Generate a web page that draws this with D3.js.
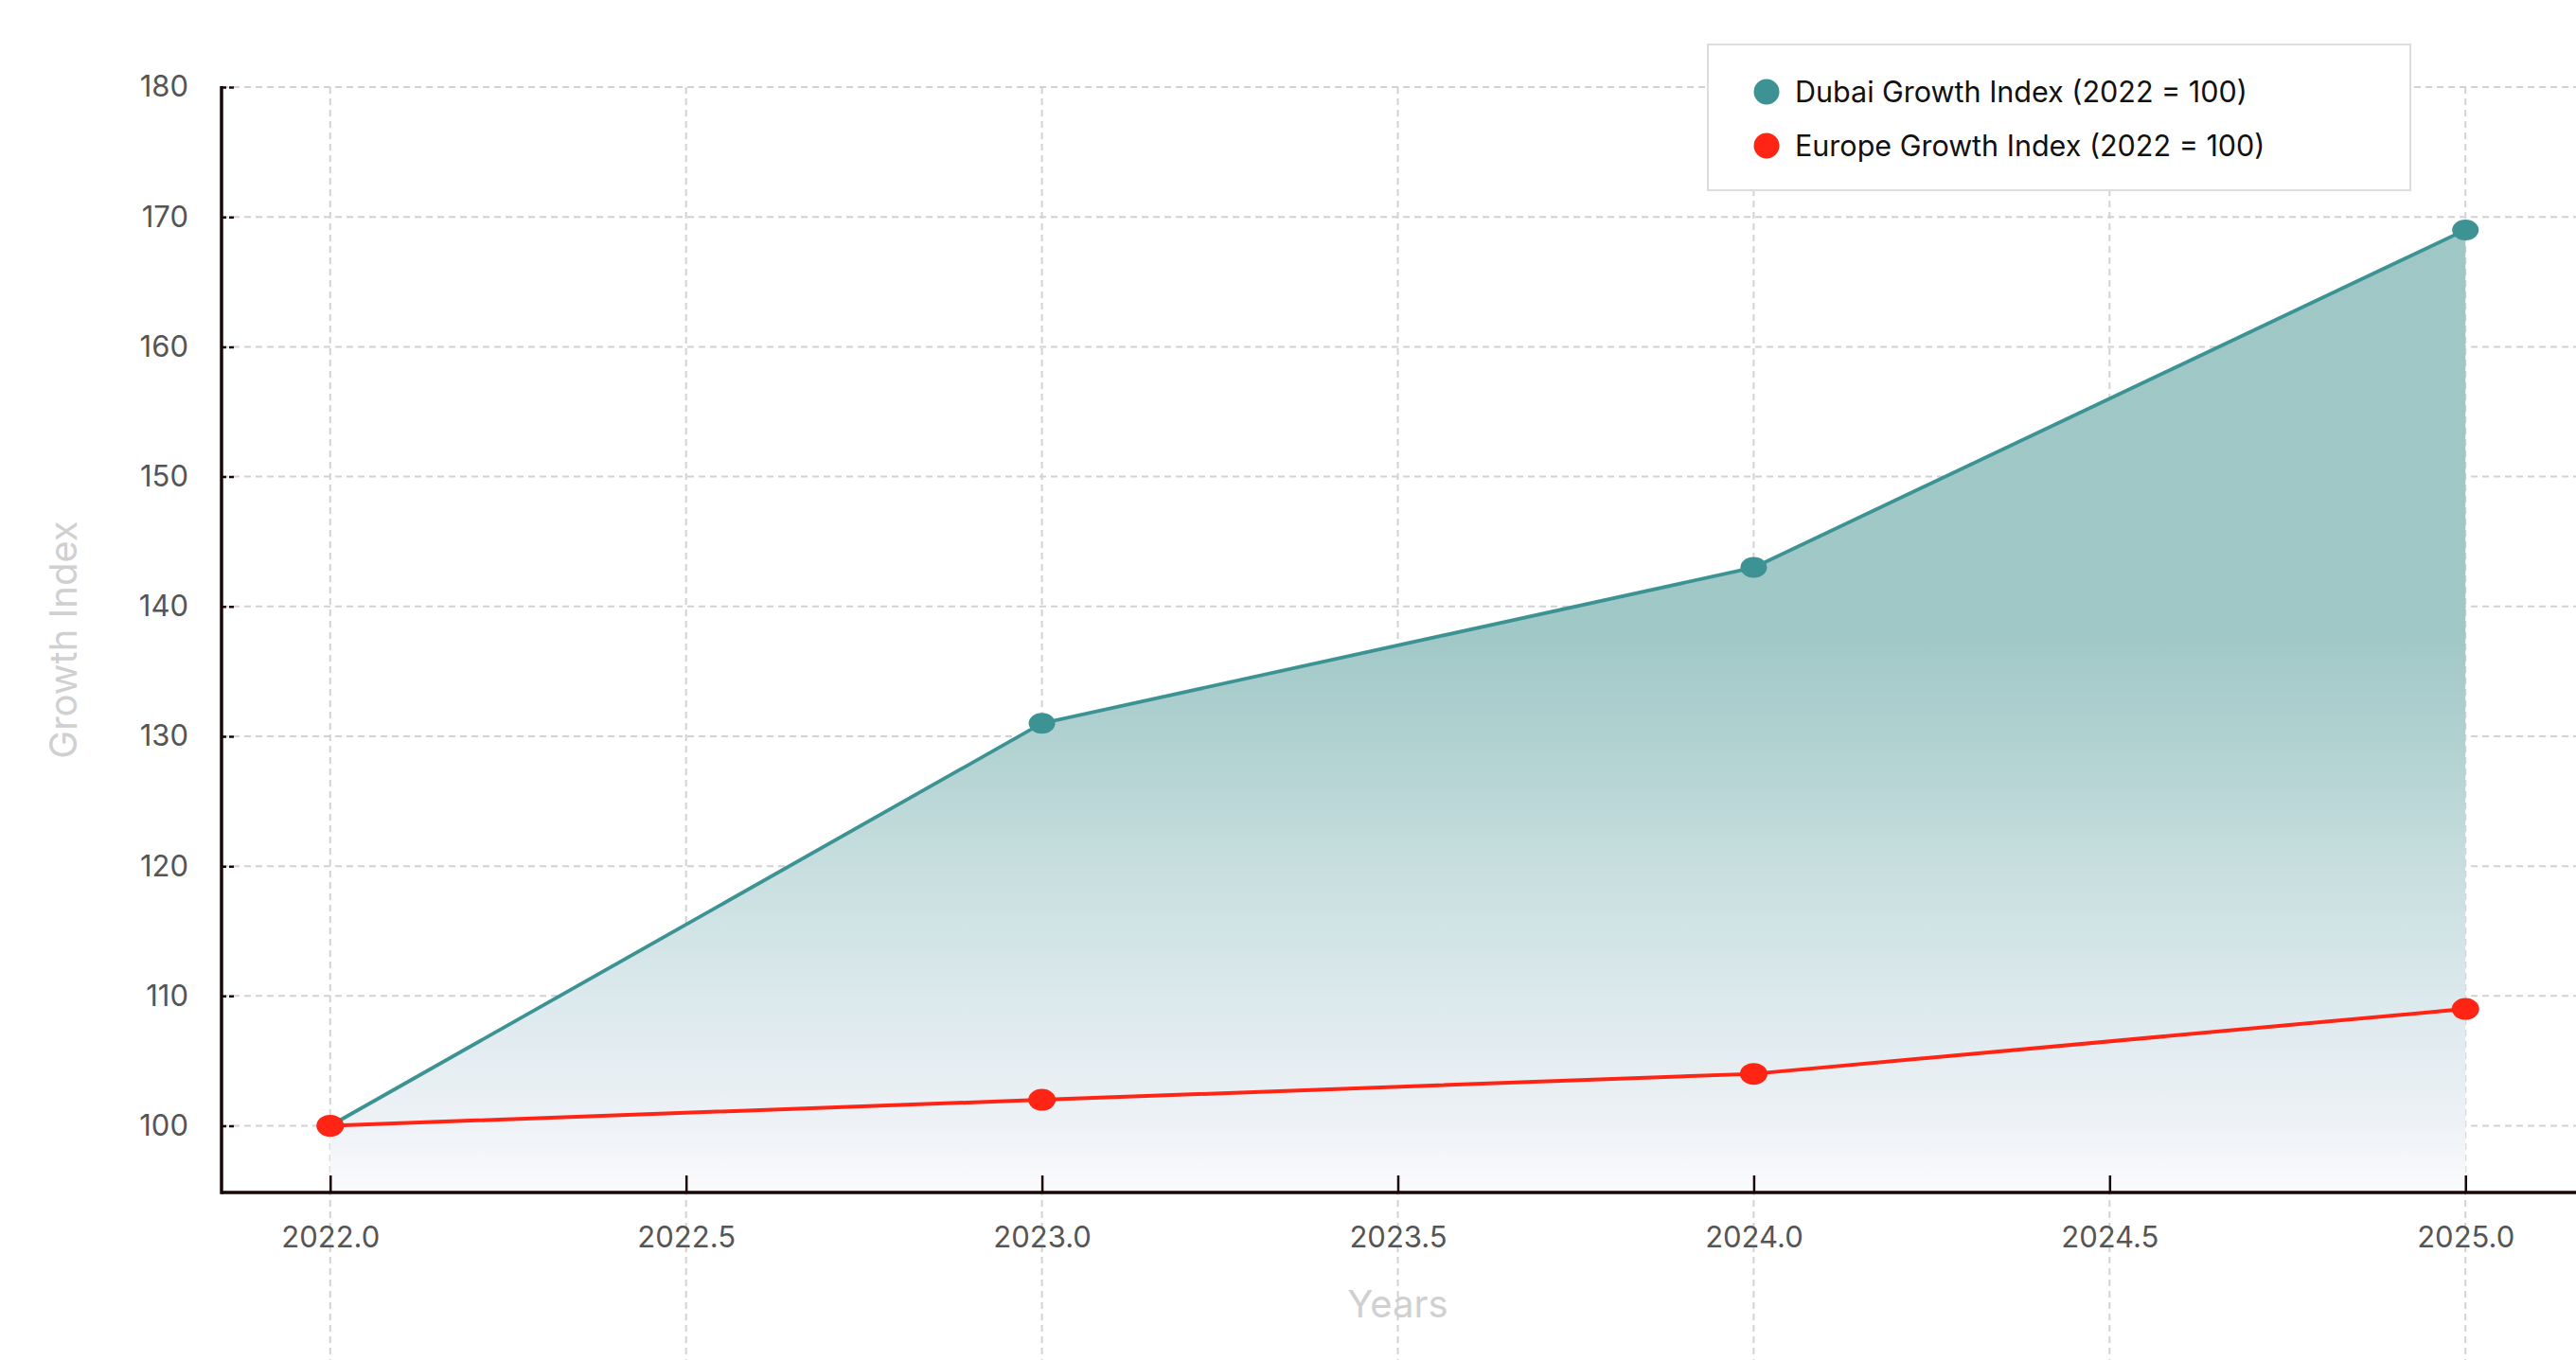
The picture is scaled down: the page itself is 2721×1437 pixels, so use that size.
<!DOCTYPE html>
<html>
<head>
<meta charset="utf-8">
<script src="https://cdn.jsdelivr.net/npm/d3@7"></script>
<style>
  html, body { margin: 0; padding: 0; background: #ffffff; }
  svg { display: block; font-family: Inter, "Noto Sans", sans-serif; }
</style>
</head>
<body>
<svg id="chart" width="2721" height="1437"></svg>
<script>
const years = [2022, 2023, 2024, 2025];
const dubai = [100, 131, 143, 169];
const europe = [100, 102, 104, 109];
const xTicks = [2022.0, 2022.5, 2023.0, 2023.5, 2024.0, 2024.5, 2025.0];
const yTicks = [100, 110, 120, 130, 140, 150, 160, 170, 180];
const seriesNames = ["Dubai Growth Index (2022 = 100)", "Europe Growth Index (2022 = 100)"];
const seriesColors = ["#3d9393", "#ff2414"];

const W = 2721, H = 1437;
const svg = d3.select("#chart");
const x = d3.scaleLinear().domain([2021.85, 2025.15]).range([236, 2717]);
const y = d3.scaleLinear().domain([100, 180]).range([1189.5, 92]);
const axisX = 234, axisY = 1260;

// gradient
const defs = svg.append("defs");
const grad = defs.append("linearGradient").attr("id", "areaGrad")
  .attr("x1", 0).attr("y1", 0).attr("x2", 0).attr("y2", 1);
[[0, "rgb(158,199,198)"], [0.42, "rgb(160,200,199)"], [0.55, "rgb(180,211,211)"],
 [0.66, "rgb(199,222,223)"], [0.80, "rgb(220,233,237)"], [0.93, "rgb(238,242,246)"],
 [1, "rgb(251,251,253)"]].forEach(([o, c]) => grad.append("stop").attr("offset", o).attr("stop-color", c));

const gridColor = "#d2d2d2";
svg.append("g").selectAll("line").data(yTicks).join("line")
  .attr("x1", axisX).attr("x2", W)
  .attr("y1", d => y(d)).attr("y2", d => y(d))
  .attr("stroke", gridColor).attr("stroke-width", 2).attr("stroke-dasharray", "7,5");
svg.append("g").selectAll("line").data(xTicks).join("line")
  .attr("x1", d => x(d)).attr("x2", d => x(d))
  .attr("y1", y(180)).attr("y2", H)
  .attr("stroke", gridColor).attr("stroke-width", 2).attr("stroke-dasharray", "7,5");

const dubaiPts = years.map((yr, i) => ({x: yr, y: dubai[i]}));
const europePts = years.map((yr, i) => ({x: yr, y: europe[i]}));
svg.append("path").datum(dubaiPts)
  .attr("d", d3.area().x(d => x(d.x)).y0(axisY).y1(d => y(d.y)))
  .attr("fill", "url(#areaGrad)");

const line = d3.line().x(d => x(d.x)).y(d => y(d.y));
svg.append("path").datum(dubaiPts).attr("d", line)
  .attr("fill", "none").attr("stroke", seriesColors[0]).attr("stroke-width", 3.8);
svg.append("path").datum(europePts).attr("d", line)
  .attr("fill", "none").attr("stroke", seriesColors[1]).attr("stroke-width", 4);

svg.append("g").selectAll("ellipse").data(dubaiPts).join("ellipse")
  .attr("cx", d => x(d.x)).attr("cy", d => y(d.y)).attr("rx", 14).attr("ry", 11)
  .attr("fill", seriesColors[0]);
svg.append("g").selectAll("ellipse").data(europePts).join("ellipse")
  .attr("cx", d => x(d.x)).attr("cy", d => y(d.y)).attr("rx", 14.5).attr("ry", 11.5)
  .attr("fill", seriesColors[1]);

const xAxis = d3.axisBottom(x).tickValues(xTicks).tickFormat(d3.format(".1f"))
  .tickSizeInner(-18).tickSizeOuter(0).tickPadding(36);
const gx = svg.append("g").attr("transform", `translate(0,${axisY})`).call(xAxis);
gx.select(".domain").remove();
gx.selectAll(".tick line").attr("stroke", "#1a0808").attr("stroke-width", 2.5);
gx.selectAll(".tick text").attr("font-size", 31).attr("fill", "#555").attr("font-family", "Inter");
gx.append("line").attr("x1", axisX).attr("x2", W).attr("y1", 0).attr("y2", 0)
  .attr("stroke", "#1a0808").attr("stroke-width", 3.5);

const yAxis = d3.axisLeft(y).tickValues(yTicks).tickFormat(d3.format("d"))
  .tickSizeInner(-16).tickSizeOuter(0).tickPadding(35);
const gy = svg.append("g").attr("transform", `translate(${axisX},0)`).call(yAxis);
gy.select(".domain").remove();
gy.selectAll(".tick line").attr("stroke", "#1a0808").attr("stroke-width", 2.5).attr("stroke-dasharray", "5,3");
gy.selectAll(".tick text").attr("font-size", 31).attr("fill", "#555").attr("font-family", "Inter");
gy.append("line").attr("x1", 0).attr("x2", 0).attr("y1", y(180) - 1).attr("y2", axisY + 1.75)
  .attr("stroke", "#1a0808").attr("stroke-width", 3.5);

svg.append("text").attr("x", (x.range()[0] + x.range()[1]) / 2).attr("y", 1392)
  .attr("text-anchor", "middle").attr("font-size", 40).attr("fill", "#d0d0d0").text("Years");
svg.append("text").attr("transform", `translate(81,${(92 + 1260) / 2}) rotate(-90)`)
  .attr("text-anchor", "middle").attr("font-size", 40).attr("fill", "#d0d0d0").text("Growth Index");

const lg = svg.append("g");
lg.append("rect").attr("x", 1804).attr("y", 47).attr("width", 742).attr("height", 154)
  .attr("fill", "#ffffff").attr("stroke", "#dddddd").attr("stroke-width", 2);
seriesNames.forEach((name, i) => {
  const cy = 97 + i * 57;
  lg.append("circle").attr("cx", 1866).attr("cy", cy).attr("r", 13.5).attr("fill", seriesColors[i]);
  lg.append("text").attr("x", 1896).attr("y", cy).attr("dy", "0.36em")
    .attr("font-size", 30.5).attr("fill", "#111").text(name);
});
</script>
</body>
</html>
